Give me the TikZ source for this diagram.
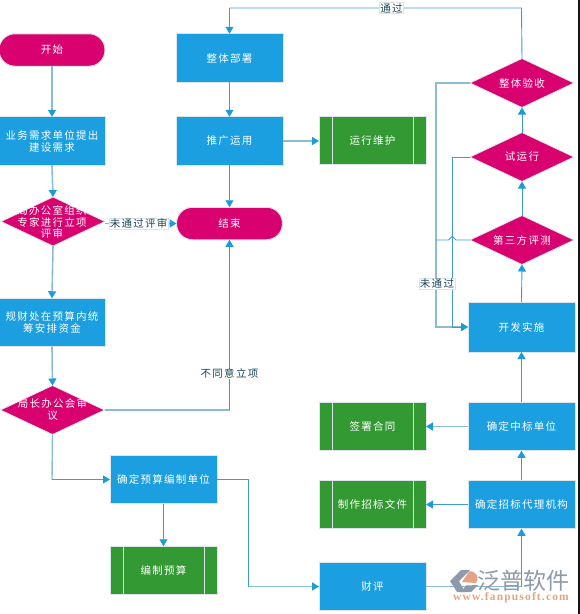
\documentclass[tikz,border=0pt]{standalone}
\usepackage{fontspec}
\setmainfont{Noto Sans CJK SC}[LetterSpace=12]
\newfontfamily\wmcjk{Noto Sans CJK SC}
\newfontfamily\wmfont{Liberation Serif}[LetterSpace=10]
\usetikzlibrary{shapes.geometric,arrows.meta,calc}
\definecolor{bxblue}{HTML}{1B9FE0}
\definecolor{bxmag}{HTML}{D90070}
\definecolor{bxgrn}{HTML}{339933}
\definecolor{bxedge}{HTML}{DCE6EA}
\definecolor{lnblue}{HTML}{3E9CCB}
\definecolor{lnpale}{HTML}{8DBBD3}
\definecolor{tipblue}{HTML}{1B9CD8}
\definecolor{wmgrey}{HTML}{8E9AAB}
\definecolor{wmorange}{HTML}{E3A384}
\tikzset{
  x=1pt,y=-1pt,
  every node/.style={inner sep=0pt,outer sep=0pt,font=\fontsize{10.5pt}{12pt}\selectfont},
  wtxt/.style={text=white,align=center},
  procbox/.style={draw=bxedge,line width=1pt,fill=bxblue,rectangle,minimum width=107pt,minimum height=48.5pt,wtxt},
  termbox/.style={draw=bxedge,line width=1pt,fill=bxmag,rectangle,rounded corners=16pt,minimum width=106pt,minimum height=32.5pt,wtxt},
  grnbox/.style={draw=bxedge,line width=1pt,fill=bxgrn,rectangle,minimum width=107pt,minimum height=48.5pt,wtxt,
    path picture={\draw[bxedge,line width=1pt]
      ($(path picture bounding box.north west)+(13,0)$) -- ($(path picture bounding box.south west)+(13,0)$)
      ($(path picture bounding box.north east)+(-13,0)$) -- ($(path picture bounding box.south east)+(-13,0)$);}},
  decis/.style={draw=bxedge,line width=.8pt,fill=bxmag,shape=diamond,minimum width=104pt,minimum height=49pt},
  flow/.style={draw=lnblue,line width=.9pt,-{Triangle[length=7pt,width=8pt,color=tipblue]}},
  flowp/.style={draw=lnpale,line width=1.6pt,-{Triangle[length=7pt,width=8pt,color=tipblue]}},
  plain/.style={draw=lnblue,line width=.9pt},
  plainp/.style={draw=lnpale,line width=1.4pt},
  tag/.style={fill=white,draw=bxedge,line width=.6pt,text=black!55!lnblue,inner xsep=1pt,inner ysep=0.5pt,font=\fontsize{10.5pt}{12pt}\selectfont},
}
\begin{document}
\begin{tikzpicture}
\useasboundingbox (0,0) rectangle (580,614);
\clip (0,0) rectangle (580,614);
% left column
\node[termbox] (start) at (52,50) {开始};
\node[procbox] (need) at (52,141) {业务需求单位提出\\建设需求};
\node[decis] (d1) at (53,221.5) {};
\node[wtxt,align=center,font=\fontsize{10.5pt}{11.8pt}\selectfont] (d1t) at (52,222) {局办公室组织\\专家进行立项\\评审};
\node[procbox] (fund) at (52,322.5) {规财处在预算内统\\筹安排资金};
\node[decis] (d2) at (52.5,410) {};
\node[wtxt,align=center,font=\fontsize{10.5pt}{12pt}\selectfont] (d2t) at (d2) {局长办公会审\\议};
\node[procbox] (unit) at (163.5,479.5) {确定预算编制单位};
\node[grnbox] (budget) at (163.5,570.5) {编制预算};
% middle column
\node[procbox] (deploy) at (229.5,58) {整体部署};
\node[procbox] (promo) at (229.5,141) {推广运用};
\node[termbox] (finish) at (229.5,223.5) {结束};
\node[grnbox] (maint) at (372.5,140.5) {运行维护};
\node[grnbox] (sign) at (372.5,426.5) {签署合同};
\node[grnbox] (docs) at (372.5,504.5) {制作招标文件};
\node[procbox] (review) at (372.5,586.5) {财评};
% right column
\node[decis] (d5) at (522,83) {};
\node[wtxt] (d5t) at (d5) {整体验收};
\node[decis] (d4) at (522,157) {};
\node[wtxt] (d4t) at (d4) {试运行};
\node[decis] (d3) at (522,240) {};
\node[wtxt] (d3t) at (d3) {第三方评测};
\node[procbox,minimum height=50pt] (dev) at (521.5,327) {开发实施};
\node[procbox] (winner) at (521.5,426.5) {确定中标单位};
\node[procbox] (agent) at (521.5,504.5) {确定招标代理机构};
% routing points
\coordinate (topR) at (521.5,8);
\coordinate (topL) at (229.5,8);
\coordinate (railA) at (436,83);
\coordinate (railAb) at (436,327);
\coordinate (railB) at (452.3,157);
\coordinate (railBb) at (452.3,327);
\coordinate (hopR) at (456,240);
\coordinate (hopL) at (448.5,240);
\coordinate (railC) at (436,240);
\coordinate (lowC) at (52,479.5);
\coordinate (mid1) at (229.5,410);
\coordinate (mid2) at (248.5,479.5);
\coordinate (mid3) at (248.5,586.5);
\coordinate (agentB) at (521.5,586.5);
% left flows
\draw[flowp] (start.south) -- (need.north);
\draw[flowp] (need.south) -- (d1.north);
\draw[flowp] (d1.south) -- (fund.north);
\draw[flowp] (fund.south) -- (d2.north);
\draw[flowp] (d1.east |- finish.west) -- node[tag,pos=.47] {未通过评审} (finish.west);
\draw[plainp] (d2.east) -- (mid1);
\draw[flow] (mid1) -- node[tag,draw=none,pos=.2,yshift=2pt] {不同意立项} (finish.south);
\draw[plainp] (d2.south) -- (lowC);
\draw[flow] (lowC) -- (unit.west);
\draw[flow] (unit.south) -- (budget.north);
\draw[plain] (unit.east) -- (mid2) -- (mid3);
\draw[flowp] (mid3) -- (review.west);
% middle flows
\draw[flow] (deploy.south) -- (promo.north);
\draw[flow] (promo.south) -- (finish.north);
\draw[flowp] (promo.east) -- (maint.west |- promo.east);
% right flows
\draw[plainp] (review.east) -- (agentB);
\draw[flow] (agentB) -- (agent.south);
\draw[flow] (agent.west) -- (docs.east);
\draw[flow] (agent.north) -- (winner.south);
\draw[flowp] (winner.west) -- (sign.east);
\draw[flow] (winner.north) -- (dev.south);
\draw[flow] (dev.north) -- (d3.south);
\draw[flow] (d3.north) -- (d4.south);
\draw[flow] (d4.north) -- (d5.south);
\draw[plain] (d5.north) -- (topR) -- node[tag,pos=.445] {通过} (topL);
\draw[flow] (topL) -- (deploy.north);
% feedback
\draw[flowp,line width=1.2pt] (d5.west) -- (railA) -- (railAb) -- (dev.west);
\draw[flow] (d4.west) -- (railB) -- (railBb) -- (dev.west);
\draw[plain] (d3.west) -- (hopR) .. controls (454.5,240) and (454.5,236.5) .. (452.3,236.5) .. controls (450,236.5) and (450,240) .. (hopL) -- (railC);
\node[tag] (nopass) at (437,284) {未通过};
% watermark
\fill[wmgrey] (450,581) -- (461,570) -- (470,570) -- (459,581) -- (465,592) -- (457,592) -- cycle;
\fill[wmorange] (462,582) -- (469,571.5) .. controls (476,570) and (480,578) .. (476,583) -- cycle;
\fill[wmgrey] (461,592) -- (466,585.5) -- (478,585) -- (471,592) -- cycle;
\node[text=wmgrey,font=\wmcjk\fontsize{23pt}{24pt}\selectfont] (wm1) at (523.5,581) {泛普软件};
\node[text=wmorange,font=\wmfont\fontsize{11.5pt}{12pt}\selectfont\bfseries] (wm2) at (511,598) {www.fanpusoft.com};
% right edge of the screenshot
\fill[black!92] (577.7,0) rectangle (580,614);
\end{tikzpicture}
\end{document}
